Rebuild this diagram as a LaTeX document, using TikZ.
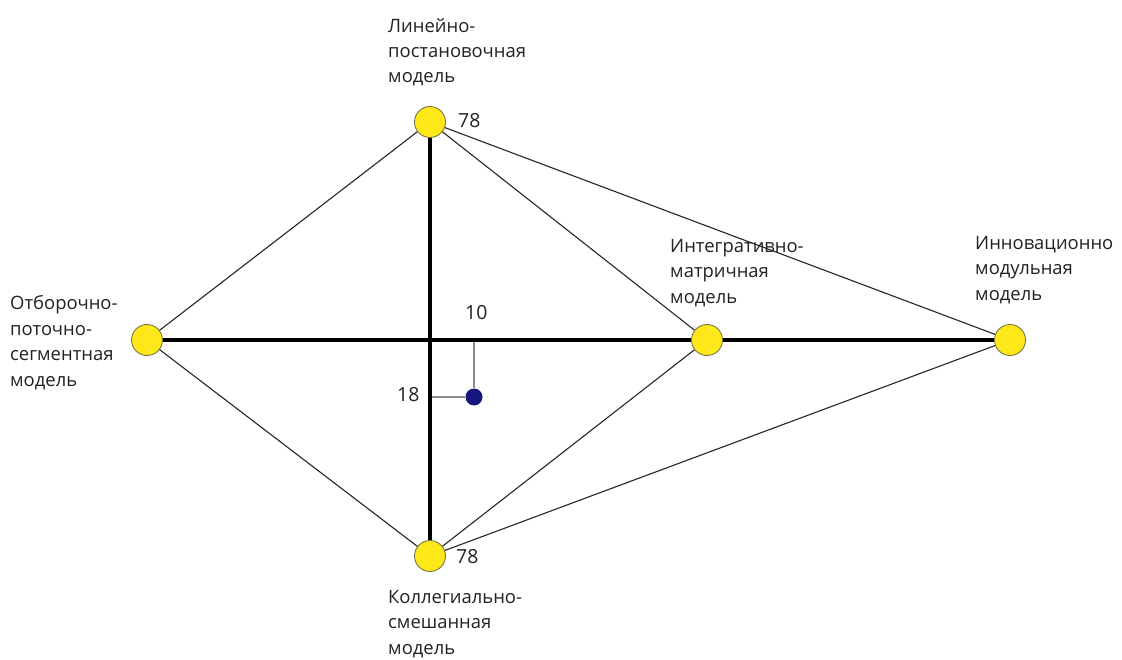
\documentclass[tikz,border=0pt]{standalone}
\usepackage{fontspec}
\setmainfont{Open Sans}
\begin{document}
\begin{tikzpicture}[x=1bp,y=-1bp,
  model/.style={circle,draw=yellow!40!black,line width=0.9bp,fill=ymain,minimum size=31bp,inner sep=0pt},
  lbl/.style={anchor=base west,align=left,inner sep=0pt,text=txt,font=\fontsize{18.5}{25.5}\selectfont},
  num/.style={inner sep=0pt,text=txt,font=\fontsize{19.5}{22}\selectfont},
  thinedge/.style={line width=1.1bp,draw=black!85},
  thickedge/.style={line width=3.6bp,draw=black},
  guide/.style={line width=1.5bp,draw=black!45}]
\definecolor{ymain}{HTML}{FFE81A}
\definecolor{txt}{HTML}{222222}
\definecolor{dotc}{HTML}{16167E}
\useasboundingbox (0,0) rectangle (1122,660);
\fill[white] (0,0) rectangle (1122,660);

\node[model] (L) at (430,122) {};
\node[model] (O) at (147,340) {};
\node[model] (I) at (707,340) {};
\node[model] (N) at (1010,340) {};
\node[model] (K) at (430,556) {};
\coordinate (hx) at (474,340);
\coordinate (vx) at (430,397);
\node[circle,fill=dotc,minimum size=17bp,inner sep=0pt] (D) at (474,397) {};

\draw[thinedge] (L) -- (O);
\draw[thinedge] (L) -- (I);
\draw[thinedge] (L) -- (N);
\draw[thinedge] (K) -- (O);
\draw[thinedge] (K) -- (I);
\draw[thinedge] (K) -- (N);
\draw[guide] (hx) -- (D);
\draw[guide] (vx) -- (D);
\draw[thickedge] (L) -- (K);
\draw[thickedge] (O) -- (I);
\draw[thickedge] (I) -- (N);

\node[lbl] (tL) at (388,83) {Линейно-\\постановочная\\модель};
\node[lbl] (tO) at (10,386) {Отборочно-\\поточно-\\сегментная\\модель};
\node[lbl] (tK) at (388,654) {Коллегиально-\\смешанная\\модель};
\node[lbl] (tI) at (670,303) {Интегративно-\\матричная\\модель};
\node[lbl] (tN) at (975,300) {Инновационно\\модульная\\модель};

\node[num,anchor=base west] (n1) at (458,128) {78};
\node[num,anchor=base west] (n2) at (456,563) {78};
\node[num,anchor=base west] (n3) at (465,319) {10};
\node[num,anchor=base west] (n4) at (397,401) {18};
\end{tikzpicture}
\end{document}
